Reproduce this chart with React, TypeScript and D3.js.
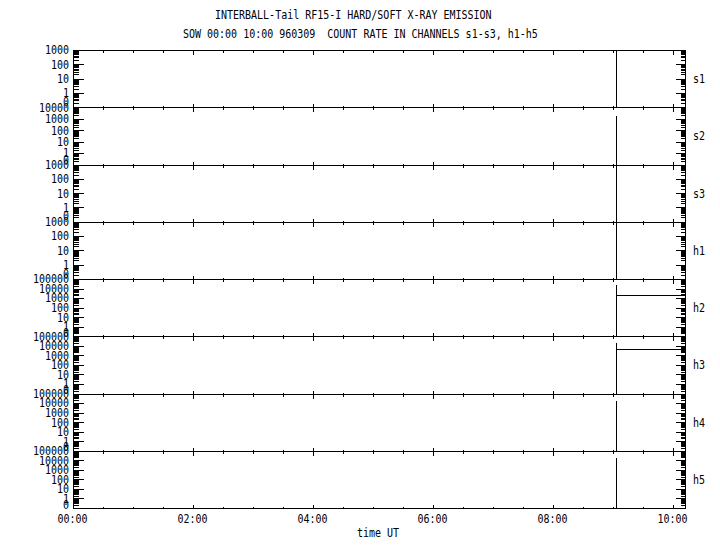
import React from "react";
import * as d3 from "d3";

// ---- data ----
const titleLine1 = "INTERBALL-Tail RF15-I HARD/SOFT X-RAY EMISSION";
const titleLine2 = "SOW 00:00 10:00 960309  COUNT RATE IN CHANNELS s1-s3, h1-h5";
const xTitle = "time UT";

const channels = ["s1", "s2", "s3", "h1", "h2", "h3", "h4", "h5"];
// top of each panel's log axis (value)
const panelTop = [1000, 10000, 1000, 1000, 100000, 100000, 100000, 100000];
const yTickLabels = [
  ["1000", "100", "10", "1", "0"],
  ["10000", "1000", "100", "10", "1", "0"],
  ["1000", "100", "10", "1", "0"],
  ["1000", "100", "10", "1", "0"],
  ["100000", "10000", "1000", "100", "10", "1", "0"],
  ["100000", "10000", "1000", "100", "10", "1", "0"],
  ["100000", "10000", "1000", "100", "10", "1", "0"],
  ["100000", "10000", "1000", "100", "10", "1", "0"],
];

// time in hours UT
const timeHours = [0, 9.058, 9.058, 9.058, 10.2];
const s1 = [0, 0, 5000, 0, 0];
const s2 = [0, 0, 2100, 0, 0];
const s3 = [0, 0, 5000, 0, 0];
const h1 = [0, 0, 5000, 0, 0];
const h2 = [0, 0, 27000, 1950, 1950];
const h3 = [0, 0, 27000, 5000, 5000];
const h4 = [0, 0, 21000, 0, 0];
const h5 = [0, 0, 24000, 0, 0];
const seriesValues = [s1, s2, s3, h1, h2, h3, h4, h5];

const xTickHours = [0, 2, 4, 6, 8, 10];
const xTickLabels = ["00:00", "02:00", "04:00", "06:00", "08:00", "10:00"];
const xMinorStep = 0.5;
const xDomain = [0, 10.2];

// ---- layout ----
const W = 720;
const H = 550;
const left = 72.5;
const right = 684.5;
const plotTop = 50;
const plotBottom = 508;
const FONT = "'DejaVu Sans Mono', 'Liberation Mono', monospace";

function T({ x, y, anchor = "start", children }: { x: number; y: number; anchor?: string; children: any }) {
  // y is the vertical centre of the glyphs; text is stretched vertically like the bitmap font
  return (
    <text
      transform={`translate(${x},${y}) scale(1,1.22)`}
      x={0}
      y={3.6}
      textAnchor={anchor}
      fontSize={10}
      fontFamily={FONT}
      style={{ whiteSpace: "pre" }}
      xmlSpace="preserve"
    >
      {children}
    </text>
  );
}

export default function App() {
  const x = d3.scaleLinear().domain(xDomain).range([left, right]);
  const n = channels.length;
  const panelH = (plotBottom - plotTop) / n;
  const px = (v: number) => Math.round(v) + 0.5;

  const xMinor = d3.range(0, 10.2 + 1e-9, xMinorStep);

  const panels = channels.map((ch, i) => {
    const top = plotTop + i * panelH;
    const bottom = top + panelH;
    const y = d3.scaleLog().domain([0.1, panelTop[i]]).range([bottom, top]).clamp(true);
    const topDec = Math.round(Math.log10(panelTop[i]));
    const majors: number[] = [];
    const minors: number[] = [];
    for (let d = -1; d <= topDec; d++) {
      majors.push(Math.pow(10, d));
      if (d < topDec) for (let k = 2; k <= 9; k++) minors.push(k * Math.pow(10, d));
    }
    const line = d3
      .line<number>()
      .x((_, j) => px(x(timeHours[j])))
      .y((v) => px(y(Math.max(v, 0.1))));
    const labels = yTickLabels[i];
    return (
      <g key={ch}>
        {majors.map((v) => (
          <g key={"M" + v}>
            <line x1={px(left)} x2={px(left) + 10} y1={px(y(v))} y2={px(y(v))} stroke="#000" />
            <line x1={px(right)} x2={px(right) - 10} y1={px(y(v))} y2={px(y(v))} stroke="#000" />
          </g>
        ))}
        {minors.map((v) => (
          <g key={"m" + v}>
            <line x1={px(left)} x2={px(left) + 5} y1={px(y(v))} y2={px(y(v))} stroke="#000" />
            <line x1={px(right)} x2={px(right) - 5} y1={px(y(v))} y2={px(y(v))} stroke="#000" />
          </g>
        ))}
        {xMinor.map((t) => {
          const major = Math.abs(t / 2 - Math.round(t / 2)) < 1e-6;
          const len = major ? 4 : 2;
          if (t <= 0) return null;
          return (
            <g key={"x" + t}>
              <line x1={px(x(t))} x2={px(x(t))} y1={px(top)} y2={px(top) + len} stroke="#000" />
              <line x1={px(x(t))} x2={px(x(t))} y1={px(bottom)} y2={px(bottom) - len} stroke="#000" />
            </g>
          );
        })}
        <rect
          x={px(left)}
          y={px(top)}
          width={px(right) - px(left)}
          height={px(bottom) - px(top)}
          fill="none"
          stroke="#000"
        />
        {labels.map((lab) => {
          const v = lab === "0" ? 0.25 : +lab;
          return (
            <T key={"l" + lab} x={69} y={y(v)} anchor="end">
              {lab}
            </T>
          );
        })}
        <path d={line(seriesValues[i]) || ""} fill="none" stroke="#000" strokeWidth={1} />
        <T x={693} y={(top + bottom) / 2}>
          {ch}
        </T>
      </g>
    );
  });

  return (
    <svg
      width={W}
      height={H}
      style={{ position: "absolute", left: 0, top: 0, background: "#fff" }}
      shapeRendering="crispEdges"
    >
      <rect x={0} y={0} width={W} height={H} fill="#fff" />
      <T x={215} y={14.5}>{titleLine1}</T>
      <T x={183} y={34}>{titleLine2}</T>
      {panels}
      {xTickHours.map((t, k) => (
        <T key={"xl" + t} x={x(t)} y={519} anchor="middle">
          {xTickLabels[k]}
        </T>
      ))}
      <T x={357} y={533}>{xTitle}</T>
    </svg>
  );
}
